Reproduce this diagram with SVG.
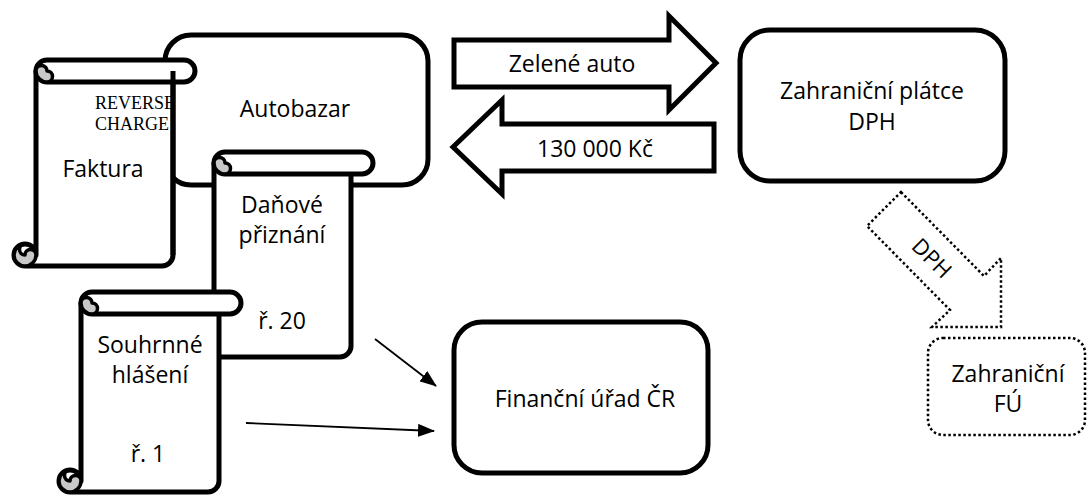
<svg xmlns="http://www.w3.org/2000/svg" width="1088" height="497" viewBox="0 0 1088 497">
  <style>
    .box { fill: #ffffff; stroke: #000000; stroke-width: 5; }
    .scroll { fill: #ffffff; stroke: #000000; stroke-width: 5; stroke-linejoin: round; }
    .curl { fill: #c8c8c8; stroke: #000000; stroke-width: 3.5; stroke-linejoin: round; }
    .bigarrow { fill: #ffffff; stroke: #000000; stroke-width: 5; stroke-linejoin: miter; stroke-miterlimit: 10; }
    .dotted { fill: #ffffff; stroke: #000000; stroke-width: 2.5; stroke-dasharray: 2.5 2.5; }
    .thin { stroke: #000000; stroke-width: 1.8; fill: none; marker-end: url(#head); }
    .t { font-family: "Open Sans", "Noto Sans", sans-serif; font-size: 23px; fill: #000000; text-anchor: middle; }
    .serif { font-family: "Liberation Serif", "Times New Roman", serif; font-size: 18px; fill: #000000; }
  </style>
  <defs>
    <marker id="head" markerUnits="userSpaceOnUse" markerWidth="17" markerHeight="13" refX="16" refY="6.5" orient="auto">
      <path d="M0,0 L17,6.5 L0,13 Z" fill="#000000"/>
    </marker>
  </defs>

  <rect width="1088" height="497" fill="#ffffff"/>

  <!-- Autobazar -->
  <g id="autobazar">
    <rect class="box" x="165" y="35" width="263" height="150" rx="26"/>
    <text class="t" x="295" y="117">Autobazar</text>
  </g>

  <!-- Faktura scroll -->
  <g id="faktura">
    <path class="scroll" d="M36,71 L173,71 L173,255 A11 11 0 0 1 162,266 L25,266 A11 11 0 0 1 25,244 A11 11 0 0 1 36,255 Z"/>
    <path class="scroll" d="M47,60 L184,60 A11 11 0 0 1 184,82 L47,82 A11 11 0 0 1 47,60 Z"/>
    <path class="curl" d="M47,71 A5.5 5.5 0 0 1 47,82 A11 11 0 0 1 36,71 A5.5 5.5 0 0 1 47,71 Z"/>
    <path class="curl" d="M25,244 A11 11 0 0 0 14,255 A11 11 0 0 0 25,266 A11 11 0 0 0 36,255 A5.5 5.5 0 0 0 25,255 A5.5 5.5 0 0 1 25,244 Z"/>
    <text class="serif" x="95" y="109">REVERSE</text>
    <text class="serif" x="95" y="130">CHARGE</text>
    <path d="M173,71 L173,255" stroke="#000" stroke-width="5"/>
    <text class="t" x="103" y="177">Faktura</text>
  </g>

  <!-- Daňové přiznání scroll -->
  <g id="danove-priznani">
    <path class="scroll" d="M214,163 L351,163 L351,346 A11 11 0 0 1 340,357 L203,357 A11 11 0 0 1 203,335 A11 11 0 0 1 214,346 Z"/>
    <path class="scroll" d="M225,152 L362,152 A11 11 0 0 1 362,174 L225,174 A11 11 0 0 1 225,152 Z"/>
    <path class="curl" d="M225,163 A5.5 5.5 0 0 1 225,174 A11 11 0 0 1 214,163 A5.5 5.5 0 0 1 225,163 Z"/>
    <text class="t" x="282" y="213">Daňové</text>
    <text class="t" x="282" y="243">přiznání</text>
    <text class="t" x="282" y="329">ř. 20</text>
  </g>

  <!-- Souhrnné hlášení scroll -->
  <g id="souhrnne-hlaseni">
    <path class="scroll" d="M81,303 L219,303 L219,481 A11 11 0 0 1 208,492 L70,492 A11 11 0 0 1 70,470 A11 11 0 0 1 81,481 Z"/>
    <path class="scroll" d="M92,292 L230,292 A11 11 0 0 1 230,314 L92,314 A11 11 0 0 1 92,292 Z"/>
    <path class="curl" d="M92,303 A5.5 5.5 0 0 1 92,314 A11 11 0 0 1 81,303 A5.5 5.5 0 0 1 92,303 Z"/>
    <path class="curl" d="M70,470 A11 11 0 0 0 59,481 A11 11 0 0 0 70,492 A11 11 0 0 0 81,481 A5.5 5.5 0 0 0 70,481 A5.5 5.5 0 0 1 70,470 Z"/>
    <text class="t" x="150" y="353">Souhrnné</text>
    <text class="t" x="150" y="383">hlášení</text>
    <text class="t" x="148" y="462">ř. 1</text>
  </g>

  <!-- Zahraniční plátce DPH -->
  <g id="zahranicni-platce">
    <rect class="box" x="740" y="30" width="265" height="151" rx="30"/>
    <text class="t" x="872" y="99">Zahraniční plátce</text>
    <text class="t" x="872" y="130">DPH</text>
  </g>

  <!-- Finanční úřad ČR -->
  <g id="financni-urad">
    <rect class="box" x="454" y="322" width="254" height="151" rx="28"/>
    <text class="t" x="585" y="407">Finanční úřad ČR</text>
  </g>

  <!-- Zahraniční FÚ -->
  <g id="zahranicni-fu">
    <rect class="dotted" x="928" y="338" width="157" height="97" rx="15"/>
    <text class="t" x="1008" y="382">Zahraniční</text>
    <text class="t" x="1008" y="412">FÚ</text>
  </g>

  <!-- connectors -->
  <g id="connectors">
    <g id="zelene-auto">
      <polygon class="bigarrow" points="454,40 669,40 669,16 716,63 669,110 669,87 454,87"/>
      <text class="t" x="572" y="72">Zelené auto</text>
    </g>
    <g id="platba">
      <polygon class="bigarrow" points="453,147 502,100 502,124 714,124 714,171 502,171 502,194"/>
      <text class="t" x="595" y="157">130 000 Kč</text>
    </g>
    <g id="dph">
      <polygon class="dotted" points="901,192 984,276 1001,258 1001,327 932,327 950,310 867,226"/>
      <text class="t" transform="translate(932,258) rotate(45)" x="0" y="8" style="font-size:22px">DPH</text>
    </g>
    <line class="thin" x1="375" y1="339" x2="436" y2="386"/>
    <line class="thin" x1="246" y1="423" x2="434" y2="431"/>
  </g>
</svg>
